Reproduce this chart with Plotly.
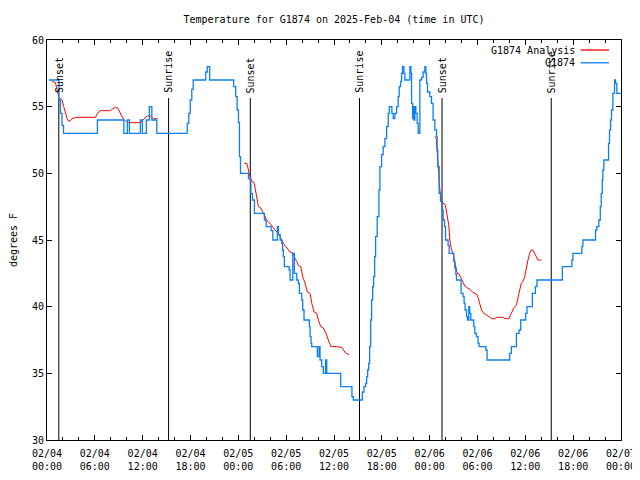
import plotly.graph_objects as go
import pandas as pd

BASE = pd.Timestamp("2025-02-04 00:00")

# Observations (G1874): hours since 2025-02-04 00:00 UTC, temperature degF (step line)
obs_hours = [0.23, 1.50, 1.69, 1.88, 2.07, 6.32, 9.64, 10.08, 10.33, 11.71, 11.96, 12.46, 12.84,
             13.15, 13.77, 17.59, 17.78, 17.97, 18.16, 18.34, 19.91, 20.10, 20.41, 23.42, 23.67,
             23.85, 24.02, 24.14, 24.27, 25.27, 25.52, 25.57, 25.77, 26.02, 27.27, 27.49, 28.11,
             28.33, 28.90, 29.03, 29.24, 29.45, 29.55, 29.65, 29.78, 30.37, 30.49, 30.83, 31.03,
             31.33, 31.53, 31.66, 31.96, 32.08, 32.24, 32.91, 33.00, 33.12, 33.21, 33.91, 34.12,
             34.25, 34.46, 34.66, 34.94, 35.09, 36.84, 38.25, 38.42, 39.55, 39.76, 39.97, 40.10,
             40.22, 40.35, 40.47, 40.60, 40.72, 40.85, 40.97, 41.10, 41.22, 41.42, 41.64, 41.76,
             41.97, 42.17, 42.39, 42.60, 42.80, 42.93, 43.26, 43.43, 43.64, 43.85, 44.05, 44.18,
             44.35, 44.48, 44.60, 44.77, 44.89, 45.52, 45.64, 45.73, 45.86, 45.93, 46.02, 46.14,
             46.27, 46.43, 46.56, 46.77, 46.98, 47.18, 47.40, 47.52, 47.61, 47.73, 48.02, 48.23,
             48.43, 48.65, 48.86, 48.94, 49.02, 49.19, 49.36, 49.56, 49.69, 49.86, 49.99, 50.31,
             50.44, 51.03, 51.15, 51.28, 51.37, 51.94, 52.19, 52.32, 52.44, 52.62, 52.74, 52.91,
             53.03, 53.16, 53.53, 53.66, 53.87, 54.07, 54.20, 55.04, 55.20, 58.04, 58.25, 58.88,
             59.21, 59.42, 60.04, 60.21, 60.88, 61.26, 61.46, 64.64, 65.84, 65.97, 67.09, 67.22,
             68.81, 68.97, 69.22, 69.40, 69.52, 69.65, 69.72, 69.85, 70.44, 70.56, 70.69, 70.81,
             70.98, 71.19, 71.31, 71.48, 72.00]
obs_temp = [57, 55.5, 54.5, 53.6, 53, 54, 53, 54, 53, 54, 53, 54, 55,
            54, 53, 53.75, 54.5, 55.5, 56.3, 57, 57.6, 58, 57, 56.5, 55.75,
            54.75, 53.8, 51.25, 50, 49.6, 49.4, 48.5, 48, 47, 46.5, 46, 45.7,
            45, 46, 45.4, 45, 44.75, 44.25, 43.75, 43, 42.75, 42, 44, 42.5,
            42, 41.75, 41, 40.5, 39.75, 39, 38.5, 37.75, 37.25, 37, 36.25, 37,
            36, 35.5, 35, 36, 35, 34, 33.25, 33, 33.6, 34, 34.25, 34.75,
            35.25, 35.75, 37, 39, 40.5, 41.5, 42.25, 43.75, 45.25, 46.75, 48.75, 50.5,
            51.4, 52, 52.6, 53.5, 54.5, 55, 54.5, 54.1, 54.5, 55, 55.75, 56.5,
            56.9, 57.5, 58, 57.5, 57, 58, 57.5, 55.25, 54.1, 55, 54, 55,
            54.5, 53.75, 53, 57, 57.2, 57.6, 58, 57.5, 56.75, 56.1, 55.75, 55.25,
            54, 53.25, 52.75, 51.75, 50.5, 48.5, 47.9, 47.25, 46.5, 46, 45, 44.6,
            44, 43.4, 42.9, 42.4, 42, 41, 40.75, 40.25, 39.75, 39.25, 39, 40,
            39.5, 39, 38.5, 38, 37.75, 37.25, 37, 36.75, 36, 36.5, 37, 38,
            38.25, 39, 39.5, 40, 41, 41.5, 42, 43, 43.5, 44, 44.5, 45,
            45.75, 46, 46.5, 47.5, 48.5, 49.5, 50.25, 51, 52.25, 53.25, 54, 54.75,
            56, 57, 56.75, 56, 56]

# Analysis (G1874 Analysis): three runs
ana1_hours = [0.65, 1.06, 1.28, 1.48, 1.69, 1.90, 2.10, 2.32, 2.53, 2.73, 2.94, 3.16, 3.69, 6.07,
              6.29, 6.70, 7.95, 8.16, 8.58, 8.87, 9.20, 9.54, 9.83, 10.24, 11.71, 12.12, 12.55,
              12.96, 13.37, 13.87]
ana1_temp = [56.9, 56.8, 56.25, 55.75, 55.6, 55.5, 55, 54.5, 54.1, 53.9, 53.95, 54.1, 54.2, 54.2,
             54.45, 54.7, 54.7, 54.8, 54.95, 54.9, 54.5, 54.1, 53.95, 53.8, 53.8, 54.05, 54.3,
             54.3, 54.1, 54.1]
ana2_hours = [24.73, 25.07, 25.27, 25.39, 25.70, 25.98, 26.15, 26.32, 26.52, 26.82, 27.15, 27.40,
              27.65, 27.99, 28.20, 28.40, 28.83, 29.24, 29.65, 30.08, 30.49, 30.90, 31.12, 31.33,
              31.53, 31.83, 32.08, 32.37, 32.66, 33.00, 33.21, 33.50, 33.84, 34.04, 34.34, 34.66,
              35.00, 35.29, 35.62, 36.34, 36.97, 37.17, 37.50, 37.92]
ana2_temp = [50.75, 50.75, 50.25, 49.9, 49.4, 49.3, 48.75, 48, 47.5, 47.4, 47, 46.6,
             46.4, 46.25, 46.05, 45.9, 45.6, 45.25, 44.75, 44.4, 44.1, 44, 43.6, 43.4,
             43.1, 43, 42.25, 41.75, 41.1, 41, 40.25, 39.6, 39.5, 39, 38.5, 38.4,
             38, 37.5, 37, 37, 36.95, 36.75, 36.5, 36.4]
ana3_hours = [48.65, 48.84, 48.96, 49.06, 49.19, 49.27, 49.49, 49.90, 50.03, 50.19, 50.40, 50.53,
              50.74, 50.94, 51.12, 51.28, 51.44, 51.69, 51.87, 52.12, 52.41, 52.62, 53.03, 53.37,
              53.87, 54.07, 54.28, 54.50, 54.70, 55.12, 55.54, 55.75, 56.16, 56.37, 57.20, 57.41,
              57.95, 58.25, 58.54, 58.88, 59.08, 59.29, 59.50, 59.71, 59.92, 60.13, 60.33, 60.54,
              60.76, 60.96, 61.17, 61.38, 61.58, 62.01]
ana3_temp = [52.75, 52.6, 51.5, 50.5, 49.8, 48.8, 47.8, 47.7, 47.4, 46.75, 46.1, 45.0,
             44.25, 44.0, 43.5, 43.0, 42.5, 42.45, 42.25, 41.9, 41.55, 41.45, 41.3, 41.1,
             40.95, 40.7, 40.25, 39.75, 39.55, 39.4, 39.2, 39.1, 39.1, 39.2, 39.2, 39.1,
             39.1, 39.5, 39.9, 40.1, 40.75, 41.25, 41.75, 41.9, 42.25, 43.0, 43.5, 44.0,
             44.25, 44.25, 44.0, 43.75, 43.5, 43.5]

sunset_hours = [1.48, 25.50, 49.55]
sunrise_hours = [15.25, 39.20, 63.25]

tick_hours = [0, 6, 12, 18, 24, 30, 36, 42, 48, 54, 60, 66, 72]
tick_labels = ["02/04<br>00:00", "02/04<br>06:00", "02/04<br>12:00", "02/04<br>18:00",
               "02/05<br>00:00", "02/05<br>06:00", "02/05<br>12:00", "02/05<br>18:00",
               "02/06<br>00:00", "02/06<br>06:00", "02/06<br>12:00", "02/06<br>18:00",
               "02/07<br>00:00"]
y_ticks = [30, 35, 40, 45, 50, 55, 60]

FONT = "DejaVu Sans Mono"
BLUE = "#0a80f5"
RED = "#ff0000"

# page body has an 8px default margin; size the figure so the plot lands where the reference has it
FIG_W, FIG_H = 632, 472


def to_time(hours):
    return [BASE + pd.Timedelta(hours=h) for h in hours]


red_x = to_time(ana1_hours) + [None] + to_time(ana2_hours) + [None] + to_time(ana3_hours)
red_y = ana1_temp + [None] + ana2_temp + [None] + ana3_temp

fig = go.Figure()
fig.add_trace(go.Scatter(x=red_x, y=red_y, mode="lines", name="G1874 Analysis",
                         line=dict(color=RED, width=1), connectgaps=False, showlegend=False))
fig.add_trace(go.Scatter(x=to_time(obs_hours), y=obs_temp, mode="lines", name="G1874",
                         line=dict(color=BLUE, width=1.3, shape="hv"), showlegend=False))

TOP_LINE = 0.855
for name, hours in (("Sunset", sunset_hours), ("Sunrise", sunrise_hours)):
    for h in hours:
        t = BASE + pd.Timedelta(hours=h)
        fig.add_shape(type="line", xref="x", yref="paper", x0=t, x1=t, y0=0, y1=TOP_LINE,
                      line=dict(color="black", width=1), layer="below")
        fig.add_annotation(x=t, xref="x", y=0.862, yref="paper", text=name, textangle=-90,
                           showarrow=False, xanchor="center", yanchor="bottom",
                           font=dict(family=FONT, size=10, color="black"))

# legend drawn gnuplot-style (text right-aligned, sample line at right)
for label, color, yp in (("G1874 Analysis", RED, 0.975), ("G1874", BLUE, 0.943)):
    fig.add_annotation(x=0.9226, xref="paper", y=yp, yref="paper", text=label, showarrow=False,
                       xanchor="right", yanchor="middle",
                       font=dict(family=FONT, size=10, color="black"))
    fig.add_shape(type="line", xref="paper", yref="paper", x0=0.9296, x1=0.979, y0=yp, y1=yp,
                  line=dict(color=color, width=1.3))

fig.update_layout(
    width=FIG_W, height=FIG_H,
    margin=dict(l=38.5, r=18.5, t=32, b=40, autoexpand=False),
    paper_bgcolor="white", plot_bgcolor="white",
    font=dict(family=FONT, size=10, color="black"),
    title=dict(text="Temperature for G1874 on 2025-Feb-04 (time in UTC)", x=0.5, xref="paper",
               xanchor="center", y=1 - 11 / FIG_H, yanchor="middle",
               font=dict(family=FONT, size=10, color="black")),
    xaxis=dict(range=[BASE, BASE + pd.Timedelta(hours=72)], tickmode="array",
               tickvals=to_time(tick_hours), ticktext=tick_labels, ticks="inside", ticklen=5,
               tickcolor="black", showline=True, linecolor="black", linewidth=1, mirror="ticks",
               showgrid=False, zeroline=False, ticklabelstandoff=4,
               minor=dict(tick0=BASE, dtick=2 * 3600 * 1000, ticks="inside", ticklen=3,
                          tickcolor="black", showgrid=False)),
    yaxis=dict(range=[30, 60], tickmode="array", tickvals=y_ticks,
               ticktext=[str(v) for v in y_ticks], ticks="inside", ticklen=5, tickcolor="black",
               showline=True, linecolor="black", linewidth=1, mirror="ticks", showgrid=False,
               zeroline=False, automargin=False,
               title=dict(text="degrees F", standoff=14,
                          font=dict(family=FONT, size=10, color="black"))),
)

fig.write_html("out.html")
